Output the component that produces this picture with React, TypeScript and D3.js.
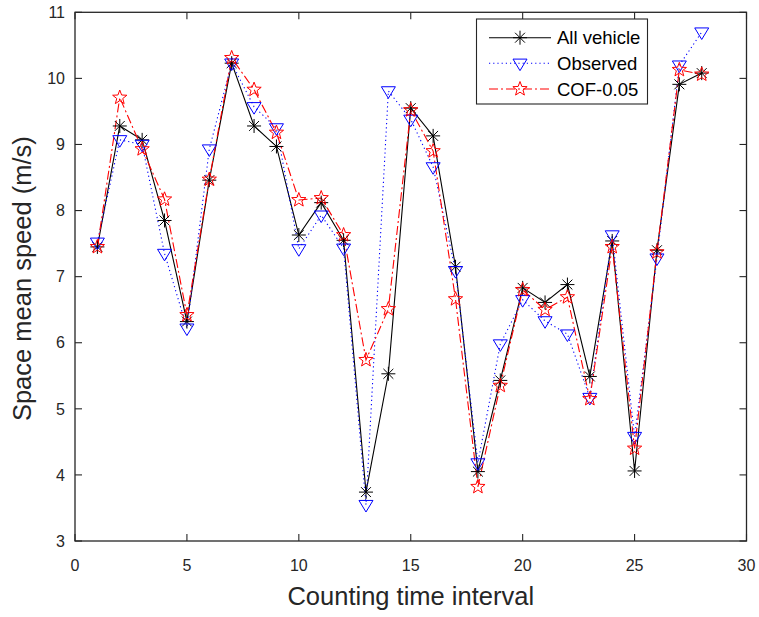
import React from "react";
import * as d3 from "d3";

const intervals = d3.range(1, 29);
const allVehicle = [7.45, 9.28, 9.07, 7.85, 6.32, 8.46, 10.23, 9.28, 8.97, 7.63, 8.12, 7.55, 3.74, 5.53, 9.55, 9.13, 7.15, 4.05, 5.43, 6.83, 6.61, 6.88, 5.49, 7.54, 4.06, 7.4, 9.91, 10.08];
const observed = [7.52, 9.07, 9.0, 7.35, 6.22, 8.93, 10.23, 9.57, 9.25, 7.42, 7.93, 7.43, 3.55, 9.81, 9.38, 8.66, 7.09, 4.18, 5.98, 6.65, 6.33, 6.13, 5.17, 7.63, 4.58, 7.28, 10.2, 10.7];
const cof = [7.45, 9.71, 8.93, 8.17, 6.42, 8.47, 10.31, 9.83, 9.18, 8.16, 8.19, 7.63, 5.74, 6.51, 9.52, 8.9, 6.66, 3.82, 5.35, 6.8, 6.5, 6.69, 5.15, 7.45, 4.4, 7.37, 10.13, 10.06];
const xTicks = [0, 5, 10, 15, 20, 25, 30];
const yTicks = [3, 4, 5, 6, 7, 8, 9, 10, 11];
const seriesNames = ["All vehicle", "Observed", "COF-0.05"];

const W = 759, H = 617;
const L = 75, R = 746.5, T = 12.3, B = 541;
const axisColor = "#262626";
const font = "'Liberation Sans', Arial, sans-serif";

const x = d3.scaleLinear().domain([0, 30]).range([L, R]);
const y = d3.scaleLinear().domain([3, 11]).range([B, T]);

function Asterisk({ cx, cy, s = 7 }: { cx: number; cy: number; s?: number }) {
  const d = s * 0.7071;
  return (
    <g stroke="#000" strokeWidth={1} fill="none">
      <line x1={cx - s} y1={cy} x2={cx + s} y2={cy} />
      <line x1={cx} y1={cy - s} x2={cx} y2={cy + s} />
      <line x1={cx - d} y1={cy - d} x2={cx + d} y2={cy + d} />
      <line x1={cx - d} y1={cy + d} x2={cx + d} y2={cy - d} />
    </g>
  );
}

function Tri({ cx, cy, s = 7 }: { cx: number; cy: number; s?: number }) {
  const pts = [[cx - s, cy - s * 0.6], [cx + s, cy - s * 0.6], [cx, cy + s * 1.05]];
  return <polygon points={pts.map((p) => p.join(",")).join(" ")} fill="none" stroke="#0000ff" strokeWidth={1} />;
}

function Star({ cx, cy, r = 7.5 }: { cx: number; cy: number; r?: number }) {
  const pts: string[] = [];
  for (let i = 0; i < 10; i++) {
    const rr = i % 2 === 0 ? r : r * 0.42;
    const a = -Math.PI / 2 + (i * Math.PI) / 5;
    pts.push(`${cx + rr * Math.cos(a)},${cy + rr * Math.sin(a)}`);
  }
  return <polygon points={pts.join(" ")} fill="none" stroke="#ff0000" strokeWidth={1} />;
}

export default function App() {
  const line = d3.line<number>().x((_, i) => x(intervals[i])).y((v) => y(v));
  const tickLen = 7;
  const legX0 = 476.5, legY0 = 19, legW = 171, legH = 85;
  const rows = [37.7, 63.3, 89];
  const lx1 = 489, lx2 = 551, lxm = 520;
  return (
    <svg width={W} height={H} style={{ position: "absolute", left: 0, top: 0 }} fontFamily={font}>
      <rect x={0} y={0} width={W} height={H} fill="#fff" />
      <path d={line(allVehicle) || ""} fill="none" stroke="#000" strokeWidth={1.1} />
      <path d={line(observed) || ""} fill="none" stroke="#0000ff" strokeWidth={1.1} strokeDasharray="1.2,3" />
      <path d={line(cof) || ""} fill="none" stroke="#ff0000" strokeWidth={1.1} strokeDasharray="9,3,2,3" />
      {allVehicle.map((v, i) => <Asterisk key={"a" + i} cx={x(intervals[i])} cy={y(v)} />)}
      {observed.map((v, i) => <Tri key={"o" + i} cx={x(intervals[i])} cy={y(v)} />)}
      {cof.map((v, i) => <Star key={"c" + i} cx={x(intervals[i])} cy={y(v)} />)}
      <rect x={L} y={T} width={R - L} height={B - T} fill="none" stroke={axisColor} strokeWidth={1.3} />
      {xTicks.map((t) => (
        <g key={"x" + t}>
          <line x1={x(t)} x2={x(t)} y1={B} y2={B - tickLen} stroke={axisColor} strokeWidth={1.1} />
          <line x1={x(t)} x2={x(t)} y1={T} y2={T + tickLen} stroke={axisColor} strokeWidth={1.1} />
          <text x={x(t)} y={B + 30} textAnchor="middle" fontSize={16} fill={axisColor}>{t}</text>
        </g>
      ))}
      {yTicks.map((t) => (
        <g key={"y" + t}>
          <line x1={L} x2={L + tickLen} y1={y(t)} y2={y(t)} stroke={axisColor} strokeWidth={1.1} />
          <line x1={R} x2={R - tickLen} y1={y(t)} y2={y(t)} stroke={axisColor} strokeWidth={1.1} />
          <text x={L - 10} y={y(t) + 5.7} textAnchor="end" fontSize={16} fill={axisColor}>{t}</text>
        </g>
      ))}
      <text x={(L + R) / 2} y={605} textAnchor="middle" fontSize={25.5} fill={axisColor}>Counting time interval</text>
      <text transform={`translate(31,${(T + B) / 2 + 2}) rotate(-90)`} textAnchor="middle" fontSize={25.5} fill={axisColor}>Space mean speed (m/s)</text>
      <rect x={legX0} y={legY0} width={legW} height={legH} fill="#fff" stroke={axisColor} strokeWidth={1.1} />
      <line x1={lx1} x2={lx2} y1={rows[0]} y2={rows[0]} stroke="#000" strokeWidth={1.1} />
      <Asterisk cx={lxm} cy={rows[0]} />
      <line x1={lx1} x2={lx2} y1={rows[1]} y2={rows[1]} stroke="#0000ff" strokeWidth={1.1} strokeDasharray="1.2,3" />
      <Tri cx={lxm} cy={rows[1]} />
      <line x1={lx1} x2={lx2} y1={rows[2]} y2={rows[2]} stroke="#ff0000" strokeWidth={1.1} strokeDasharray="9,3,2,3" />
      <Star cx={lxm} cy={rows[2]} />
      {seriesNames.map((n, i) => (
        <text key={n} x={557} y={rows[i] + 6.5} fontSize={18.5} fill="#000">{n}</text>
      ))}
    </svg>
  );
}
